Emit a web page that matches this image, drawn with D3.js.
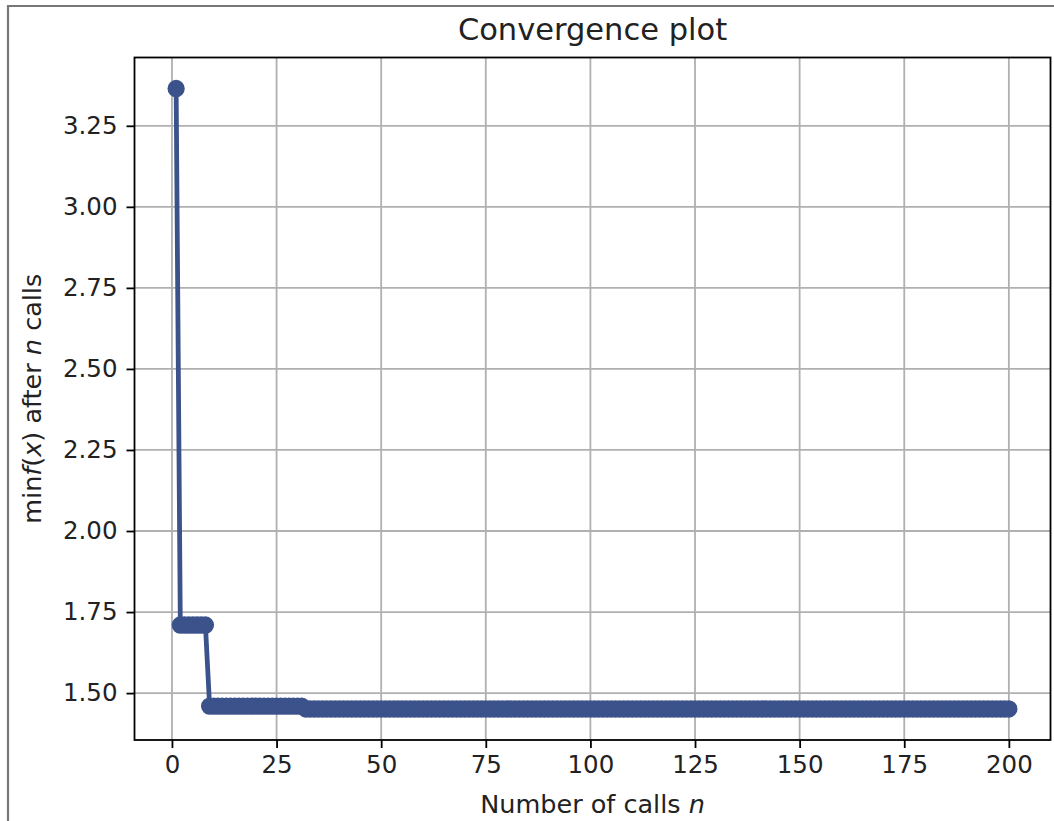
<!DOCTYPE html>
<html>
<head>
<meta charset="utf-8">
<script src="https://cdn.jsdelivr.net/npm/d3@7"></script>
<style>
  html, body { margin: 0; padding: 0; background: #fff; }
  svg { display: block; font-family: "DejaVu Sans", sans-serif; }
</style>
</head>
<body>
<svg id="chart" width="1054" height="821"></svg>
<script>
// ---- data (cumulative minimum, read as runs of equal values) ----
const runValues = [3.365, 1.71, 1.46, 1.451];
const runLengths = [1, 7, 23, 169];
const xTicks = [0, 25, 50, 75, 100, 125, 150, 175, 200];
const yTicks = [1.50, 1.75, 2.00, 2.25, 2.50, 2.75, 3.00, 3.25];
const titleText = "Convergence plot";
const lineColor = "#3b528b";

const data = [];
let n = 1;
runValues.forEach((v, i) => {
  for (let k = 0; k < runLengths[i]; k++) { data.push({ x: n, y: v }); n++; }
});

const svg = d3.select("#chart");
const W = 1054, H = 821;
const m = { left: 134.5, right: 1050.5, top: 57.5, bottom: 740 };

// outer frame
svg.append("rect").attr("x", 0).attr("y", 0).attr("width", W).attr("height", H).attr("fill", "#fff");
svg.append("path").attr("d", `M8,${H + 5} L8,6 L${W + 5},6`)
  .attr("fill", "none").attr("stroke", "#777").attr("stroke-width", 2.2);

const xExt = d3.extent(data, d => d.x), yExt = d3.extent(data, d => d.y);
const xPad = (xExt[1] - xExt[0]) * 0.05, yPad = (yExt[1] - yExt[0]) * 0.05;
const x = d3.scaleLinear().domain([xExt[0] - xPad, xExt[1] + xPad]).range([m.left, m.right]);
const y = d3.scaleLinear().domain([yExt[0] - yPad, yExt[1] + yPad]).range([m.bottom, m.top]);

// grid
const grid = svg.append("g").attr("stroke", "#b0b0b0").attr("stroke-width", 1.8);
xTicks.forEach(t => grid.append("line").attr("x1", x(t)).attr("x2", x(t)).attr("y1", m.top).attr("y2", m.bottom));
yTicks.forEach(t => grid.append("line").attr("y1", y(t)).attr("y2", y(t)).attr("x1", m.left).attr("x2", m.right));

// line + markers
svg.append("defs").append("clipPath").attr("id", "clip")
  .append("rect").attr("x", m.left).attr("y", m.top).attr("width", m.right - m.left).attr("height", m.bottom - m.top);
const plot = svg.append("g").attr("clip-path", "url(#clip)");
plot.append("path").datum(data)
  .attr("d", d3.line().x(d => x(d.x)).y(d => y(d.y)))
  .attr("fill", "none").attr("stroke", lineColor).attr("stroke-width", 4.8).attr("stroke-linejoin", "round");
plot.selectAll("circle").data(data).join("circle")
  .attr("cx", d => x(d.x)).attr("cy", d => y(d.y)).attr("r", 7.5)
  .attr("fill", lineColor).attr("stroke", lineColor).attr("stroke-width", 2.3);

// axes
const xAxis = svg.append("g").attr("transform", `translate(0,${m.bottom})`)
  .call(d3.axisBottom(x).tickValues(xTicks).tickFormat(d3.format("d")).tickSize(8).tickPadding(8));
const yAxis = svg.append("g").attr("transform", `translate(${m.left},0)`)
  .call(d3.axisLeft(y).tickValues(yTicks).tickFormat(d3.format(".2f")).tickSize(8).tickPadding(9));
[xAxis, yAxis].forEach(a => {
  a.select(".domain").remove();
  a.selectAll(".tick line").attr("stroke", "#000").attr("stroke-width", 1.8);
  a.selectAll(".tick text").attr("font-size", 24.5).attr("fill", "#222").attr("font-family", "DejaVu Sans");
});

// spines
svg.append("rect").attr("x", m.left).attr("y", m.top).attr("width", m.right - m.left).attr("height", m.bottom - m.top)
  .attr("fill", "none").attr("stroke", "#000").attr("stroke-width", 1.8);

// title
svg.append("text").attr("x", (m.left + m.right) / 2).attr("y", 40).attr("text-anchor", "middle")
  .attr("font-size", 30.5).attr("fill", "#222").text(titleText);

// x label
const xl = svg.append("text").attr("x", (m.left + m.right) / 2).attr("y", 813).attr("text-anchor", "middle")
  .attr("font-size", 25.5).attr("fill", "#222");
xl.append("tspan").text("Number of calls ");
xl.append("tspan").attr("font-style", "italic").text("n");

// y label
const yl = svg.append("text").attr("transform", `translate(41,${(m.top + m.bottom) / 2}) rotate(-90)`)
  .attr("text-anchor", "middle").attr("font-size", 25.5).attr("fill", "#222");
yl.append("tspan").text("min");
yl.append("tspan").attr("font-style", "italic").text("f");
yl.append("tspan").text("(");
yl.append("tspan").attr("font-style", "italic").text("x");
yl.append("tspan").text(") after ");
yl.append("tspan").attr("font-style", "italic").text("n");
yl.append("tspan").text(" calls");
</script>
</body>
</html>
